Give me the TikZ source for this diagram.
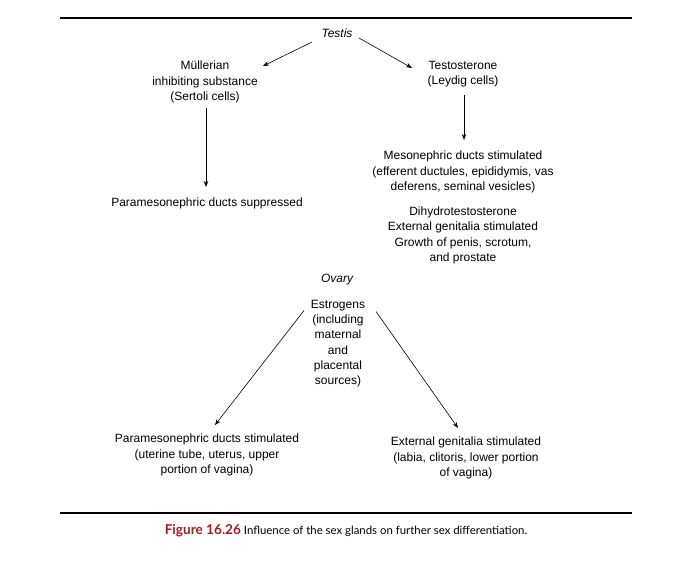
\documentclass[tikz,border=0pt]{standalone}
\usepackage{fontspec}
\setmainfont{Liberation Sans}
\newfontfamily\capfont{Lato}
\usetikzlibrary{arrows.meta}
\definecolor{figred}{RGB}{160,28,34}
\tikzset{
  txt/.style={align=center, inner sep=0pt, font=\fontsize{12}{15.3}\selectfont},
  conn/.style={line width=0.6pt, -{Stealth[length=6pt,width=4.5pt]}},
  rulebar/.style={line width=2pt}
}
\begin{document}
\begin{tikzpicture}[x=1pt,y=-1pt]
\useasboundingbox (0,0) rectangle (698,562);
\coordinate (r1a) at (60,18); \coordinate (r1b) at (632,18);
\coordinate (r2a) at (60,513); \coordinate (r2b) at (632,513);
\draw[rulebar] (r1a) -- (r1b);
\draw[rulebar] (r2a) -- (r2b);

\node[txt, font=\fontsize{12}{15.3}\selectfont\itshape] (testis) at (337,33.5) {Testis};
\node[txt] (mis) at (205,82) {Müllerian\\inhibiting substance\\(Sertoli cells)};
\node[txt] (testo) at (463,74) {Testosterone\\(Leydig cells)};
\node[txt] (psup) at (207,203) {Paramesonephric ducts suppressed};
\node[txt] (meso) at (463,172) {Mesonephric ducts stimulated\\(efferent ductules, epididymis, vas\\deferens, seminal vesicles)};
\node[txt] (dht) at (463,235.5) {Dihydrotestosterone\\External genitalia stimulated\\Growth of penis, scrotum,\\and prostate};
\node[txt, font=\fontsize{12}{15.3}\selectfont\itshape] (ovary) at (337,279.5) {Ovary};
\node[txt] (estr) at (338,343.5) {Estrogens\\(including\\maternal\\and\\placental\\sources)};
\node[txt] (pstim) at (207,455) {Paramesonephric ducts stimulated\\(uterine tube, uterus, upper\\portion of vagina)};
\node[txt] (extg) at (466,458) {External genitalia stimulated\\(labia, clitoris, lower portion\\of vagina)};

\draw[conn] ([shift={(-25,8.5)}]testis.center) -- ([shift={(58,-16)}]mis.center);
\draw[conn] ([shift={(22,4.5)}]testis.center) -- ([shift={(-51,-6)}]testo.center);
\draw[conn] ([shift={(1,26)}]mis.center) -- ([shift={(-1,-16)}]psup.center);
\draw[conn] ([shift={(1,21)}]testo.center) -- ([shift={(1,-32)}]meso.center);
\draw[conn] ([shift={(-34,-33)}]estr.center) -- ([shift={(8,-30)}]pstim.center);
\draw[conn] ([shift={(38,-32)}]estr.center) -- ([shift={(-8,-30)}]extg.center);

\node[inner sep=0pt, font=\capfont\fontsize{11.4}{13}\selectfont] (cap) at (346,531) {{\color{figred}\bfseries\fontsize{13.6}{13}\selectfont Figure 16.26} Influence of the sex glands on further sex differentiation.};
\end{tikzpicture}
\end{document}
